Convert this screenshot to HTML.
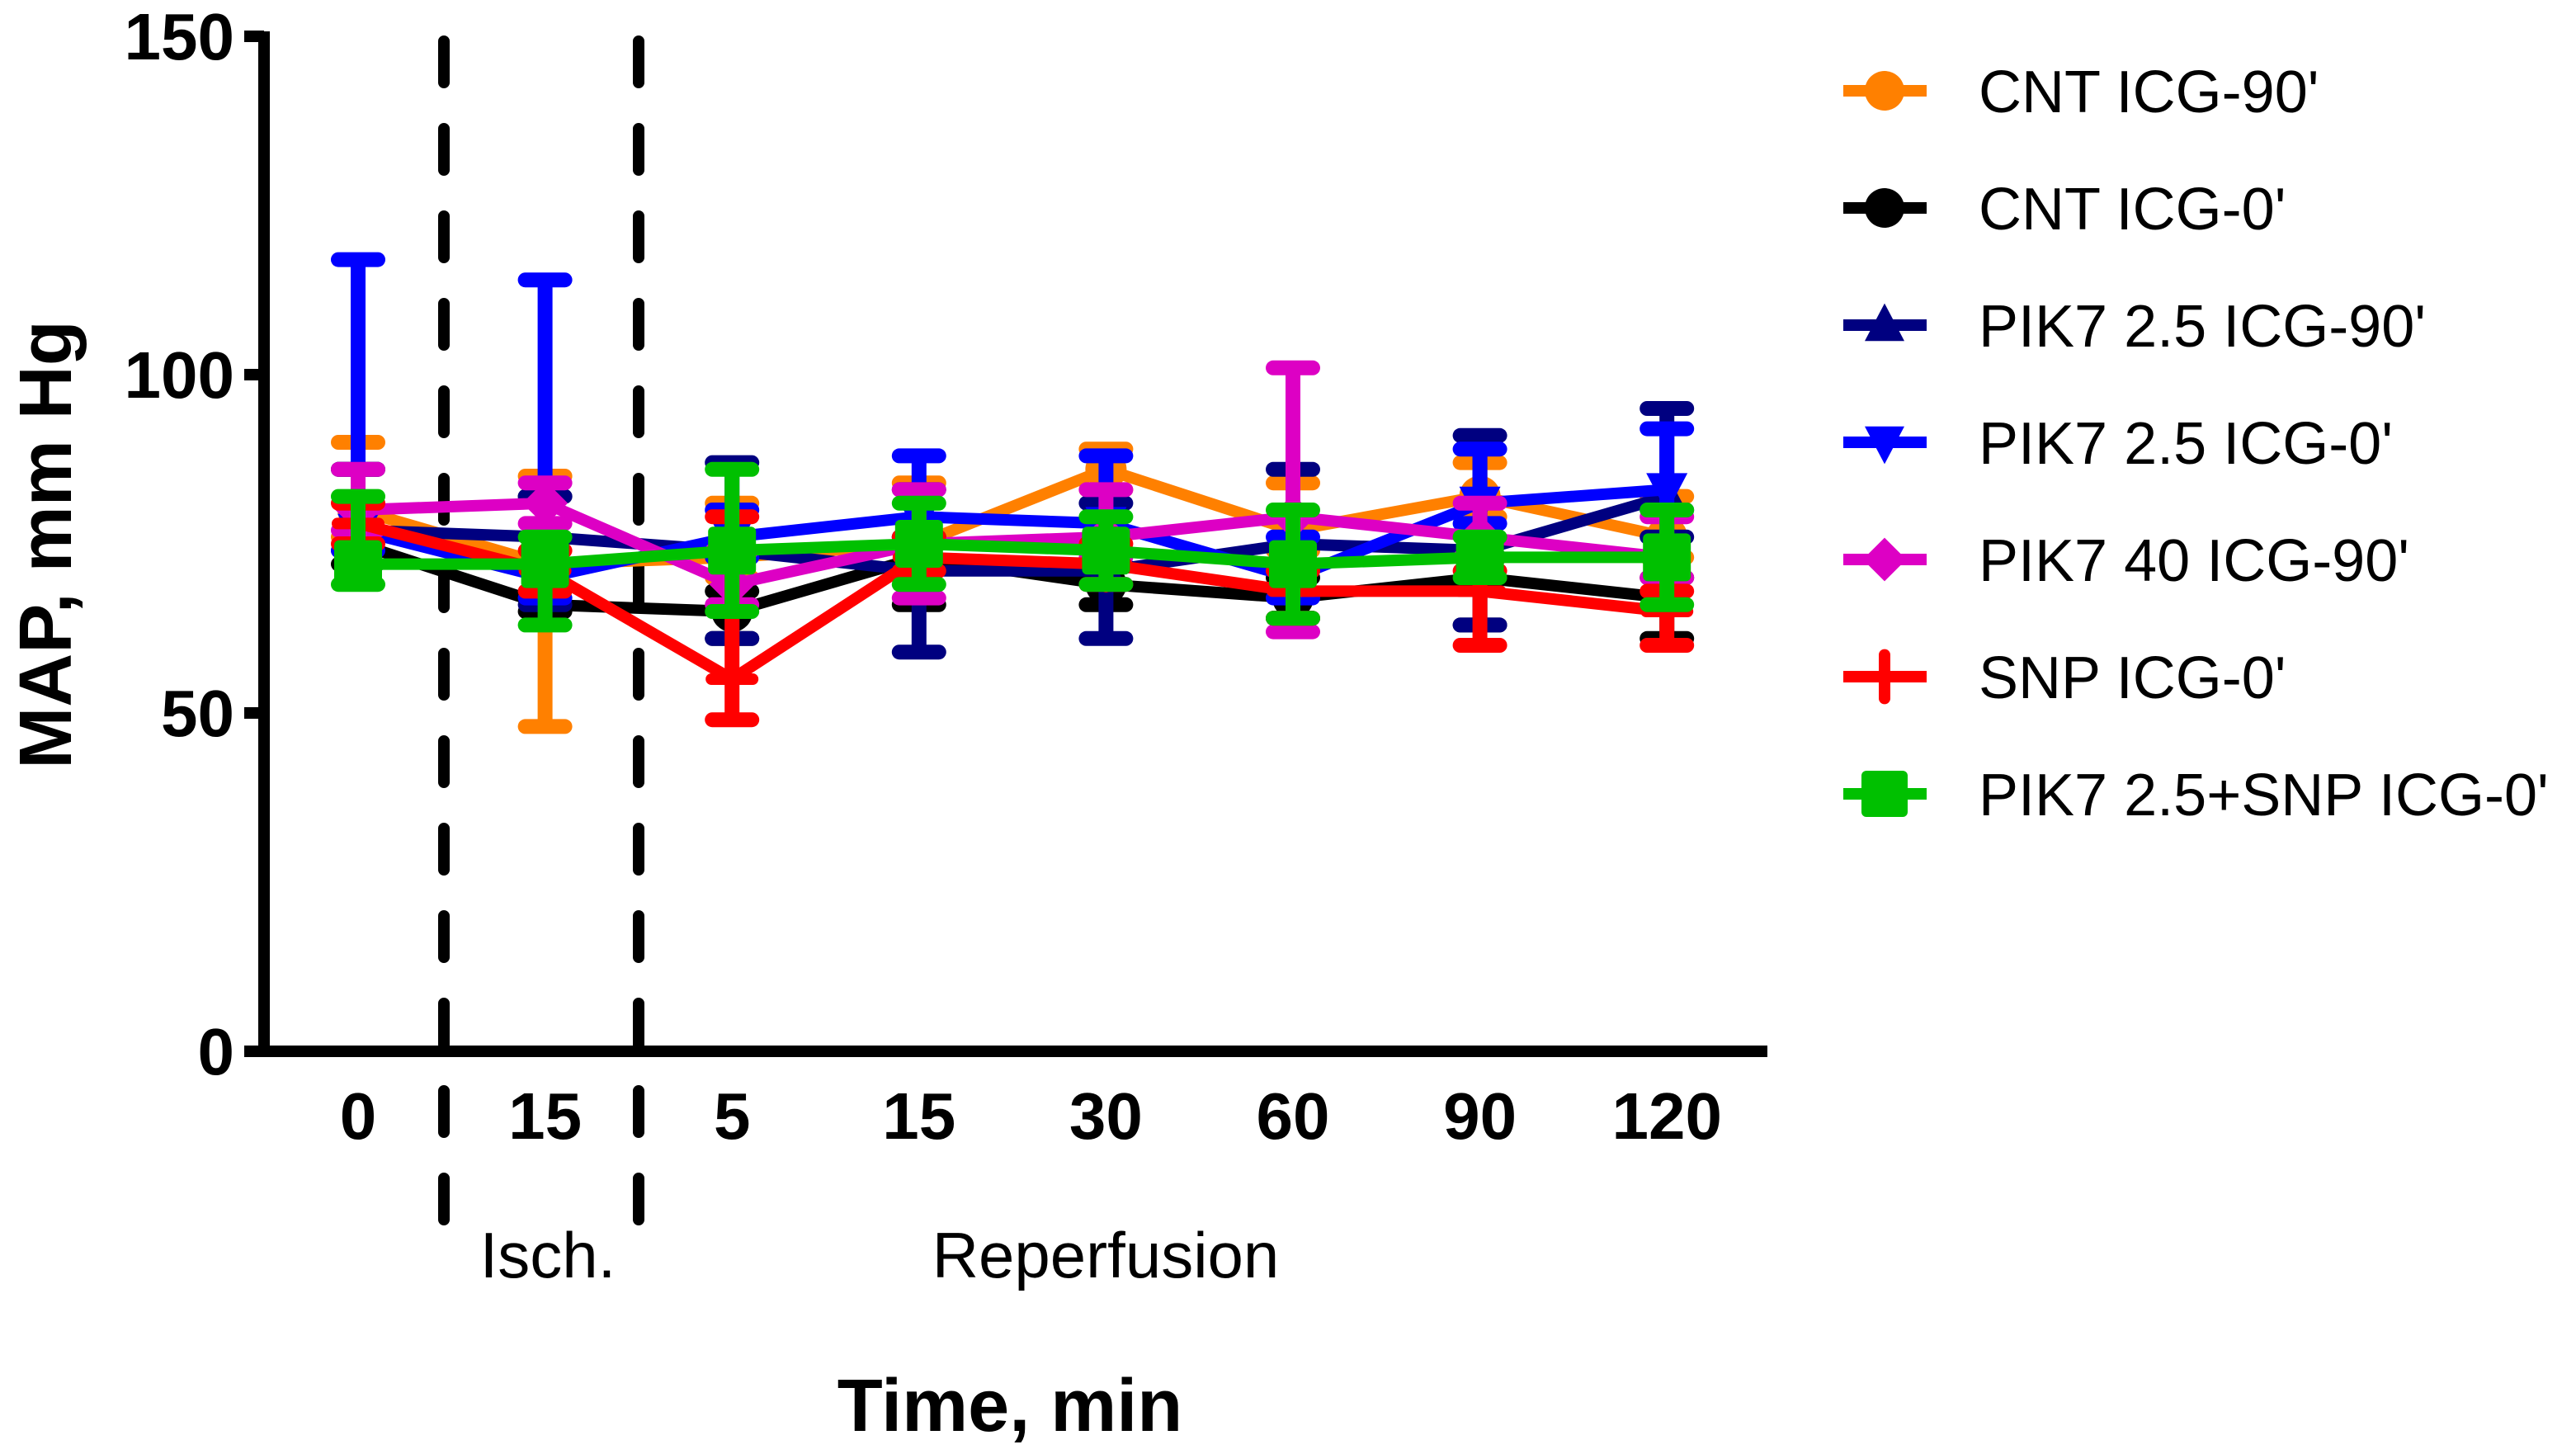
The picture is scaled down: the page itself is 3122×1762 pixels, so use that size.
<!DOCTYPE html>
<html><head><meta charset="utf-8"><style>
html,body{margin:0;padding:0;background:#fff;}
svg{display:block;font-family:"Liberation Sans",Arial,sans-serif;}
</style></head><body>
<svg id="chart" width="3122" height="1762" viewBox="0 0 3122 1762">
<g id="axes"></g><g id="series"></g><g id="legend"></g>
</svg>
<script>
const categories = ["0","15","5","15","30","60","90","120"];
const yTicks = [0,50,100,150];
const seriesNames = ["CNT ICG-90'","CNT ICG-0'","PIK7 2.5 ICG-90'","PIK7 2.5 ICG-0'","PIK7 40 ICG-90'","SNP ICG-0'","PIK7 2.5+SNP ICG-0'"];
const cntIcg90 = [80,72,73,75,86,77,82,76];
const cntIcg90ErrHi = [10,13,8,9,3,7,5,6];
const cntIcg90ErrLo = [4,24,3,3,3,3,3,3];
const cntIcg0 = [75,66,65,73,69,67,70,67];
const cntIcg0ErrHi = [11,16,3,3,3,3,3,3];
const cntIcg0ErrLo = [3,1,4,7,3,3,7,6];
const pik25Icg90 = [77,76,74,71,71,75,74,82];
const pik25Icg90ErrHi = [9,6,13,12,10,11,17,13];
const pik25Icg90ErrLo = [3,10,13,12,10,11,11,6];
const pik25Icg0 = [77,70,76,79,78,70,81,83];
const pik25Icg0ErrHi = [40,44,4,9,10,6,8,9];
const pik25Icg0ErrLo = [3,3,3,3,9,3,3,3];
const pik40Icg90 = [80,81,69,75,76,79,76,73];
const pik40Icg90ErrHi = [6,3,5,8,7,22,5,6];
const pik40Icg90ErrLo = [3,3,3,8,3,17,3,3];
const snpIcg0 = [78,71,55,73,72,68,68,65];
const snpIcg0ErrHi = [3,3,24,3,3,3,3,3];
const snpIcg0ErrLo = [3,3,6,2,3,4,8,5];
const pikSnpIcg0 = [72,72,74,75,74,72,73,73];
const pikSnpIcg0ErrHi = [10,4,12,6,5,8,3,7];
const pikSnpIcg0ErrLo = [3,9,9,6,5,8,3,7];

const NS="http://www.w3.org/2000/svg";
function mk(tag,attrs,parent){const e=document.createElementNS(NS,tag);for(const k in attrs)e.setAttribute(k,attrs[k]);parent.appendChild(e);return e;}
const y0=1274, yTop=44, yMax=150;
function yS(v){return y0-(v/yMax)*(y0-yTop);}
const xPos0=434, xStep=226.6;
function xS(i){return xPos0+i*xStep;}

const axes=document.getElementById('axes');
const yAxis=mk('line',{x1:320,y1:yTop-6,x2:320,y2:y0+7,stroke:'#000','stroke-width':14},axes);


const xAxis=mk('line',{x1:313,y1:y0,x2:2142,y2:y0,stroke:'#000','stroke-width':14},axes);


yTicks.forEach(t=>{
  const tk=mk('line',{x1:296,y1:yS(t),x2:320,y2:yS(t),stroke:'#000','stroke-width':14},axes);
  
  
  const tl=mk('text',{x:284,y:yS(t)+28,'text-anchor':'end','font-size':80,'font-weight':'bold'},axes);
  tl.textContent=t;
  
  
});
categories.forEach((c,i)=>{
  const tl=mk('text',{x:xS(i),y:1380,'text-anchor':'middle','font-size':80,'font-weight':'bold'},axes);
  tl.textContent=c;
  
  
});
[538,774].forEach(x=>{
  const d=mk('line',{x1:x,y1:50,x2:x,y2:1530,stroke:'#000','stroke-width':14,'stroke-dasharray':'50 56','stroke-linecap':'round'},axes);
  
  
});
function txt(s,x,y,size,w,name,rot){const t=mk('text',{x:x,y:y,'text-anchor':'middle','font-size':size,'font-weight':w},axes);if(rot)t.setAttribute('transform',rot);t.textContent=s;return t;}
txt('Isch.',664,1548,78,'normal','isch-label');
txt('Reperfusion',1340,1548,78,'normal','reperfusion-label');
txt('Time, min',1224,1734,90,'bold','x-axis-title');
txt('MAP, mm Hg',86,660,90,'bold','y-axis-title','rotate(-90 86 660)');

const colors=['#ff8000','#000000','#000080','#0000ff','#dd00c4','#ff0000','#00c000'];
const shapes=['circle','circle','tri-up','tri-down','diamond','plus','square'];
const means=[cntIcg90,cntIcg0,pik25Icg90,pik25Icg0,pik40Icg90,snpIcg0,pikSnpIcg0];
const errsHi=[cntIcg90ErrHi,cntIcg0ErrHi,pik25Icg90ErrHi,pik25Icg0ErrHi,pik40Icg90ErrHi,snpIcg0ErrHi,pikSnpIcg0ErrHi];
const errsLo=[cntIcg90ErrLo,cntIcg0ErrLo,pik25Icg90ErrLo,pik25Icg0ErrLo,pik40Icg90ErrLo,snpIcg0ErrLo,pikSnpIcg0ErrLo];
const slugs=['cnt-icg90','cnt-icg0','pik7-25-icg90','pik7-25-icg0','pik7-40-icg90','snp-icg0','pik7-snp-icg0'];

function marker(shape,x,y,c,g,s){
  let e;
  if(shape==='circle') e=mk('circle',{cx:x,cy:y,r:s*0.5,fill:c},g);
  else if(shape==='tri-up') e=mk('polygon',{points:`${x},${y-s*0.55} ${x+s*0.5},${y+s*0.4} ${x-s*0.5},${y+s*0.4}`,fill:c},g);
  else if(shape==='tri-down') e=mk('polygon',{points:`${x},${y+s*0.55} ${x+s*0.5},${y-s*0.4} ${x-s*0.5},${y-s*0.4}`,fill:c},g);
  else if(shape==='diamond') e=mk('polygon',{points:`${x},${y-s*0.55} ${x+s*0.55},${y} ${x},${y+s*0.55} ${x-s*0.55},${y}`,fill:c},g);
  else if(shape==='plus'){e=mk('path',{d:`M${x-s*0.5},${y}H${x+s*0.5}M${x},${y-s*0.55}V${y+s*0.55}`,stroke:c,'stroke-width':14,'stroke-linecap':'round'},g);}
  else e=mk('rect',{x:x-s*0.5,y:y-s*0.5,width:s,height:s,rx:6,fill:c},g);
  return e;
}

const sg=document.getElementById('series');
means.forEach((m,si)=>{
  const g=mk('g',{},sg);
  
  
  const c=colors[si];
  m.forEach((v,i)=>{
    const hi=v+errsHi[si][i], lo=v-errsLo[si][i];
    const eb=mk('path',{d:`M${xS(i)},${yS(lo)}V${yS(hi)}M${xS(i)-24},${yS(hi)}H${xS(i)+24}M${xS(i)-24},${yS(lo)}H${xS(i)+24}`,stroke:c,'stroke-width':18,'stroke-linecap':'round'},g);
    
    
  });
  const pl=mk('polyline',{points:m.map((v,i)=>xS(i)+','+yS(v)).join(' '),fill:'none',stroke:c,'stroke-width':14,'stroke-linejoin':'miter'},g);
  
  
  m.forEach((v,i)=>{
    const mkr=marker(shapes[si],xS(i),yS(v),c,g,shapes[si]==='square'?58:50);
    
    
  });
});

const lg=document.getElementById('legend');
seriesNames.forEach((n,i)=>{
  const y=110+i*142;
  const g=mk('g',{},lg);
  
  
  mk('line',{x1:2234,y1:y,x2:2335,y2:y,stroke:colors[i],'stroke-width':14},g);
  marker(shapes[i],2284,y,colors[i],g,shapes[i]==='square'?56:48);
  const t=mk('text',{x:2398,y:y+26,'font-size':72},g);
  t.textContent=n;
});
</script>
</body></html>
